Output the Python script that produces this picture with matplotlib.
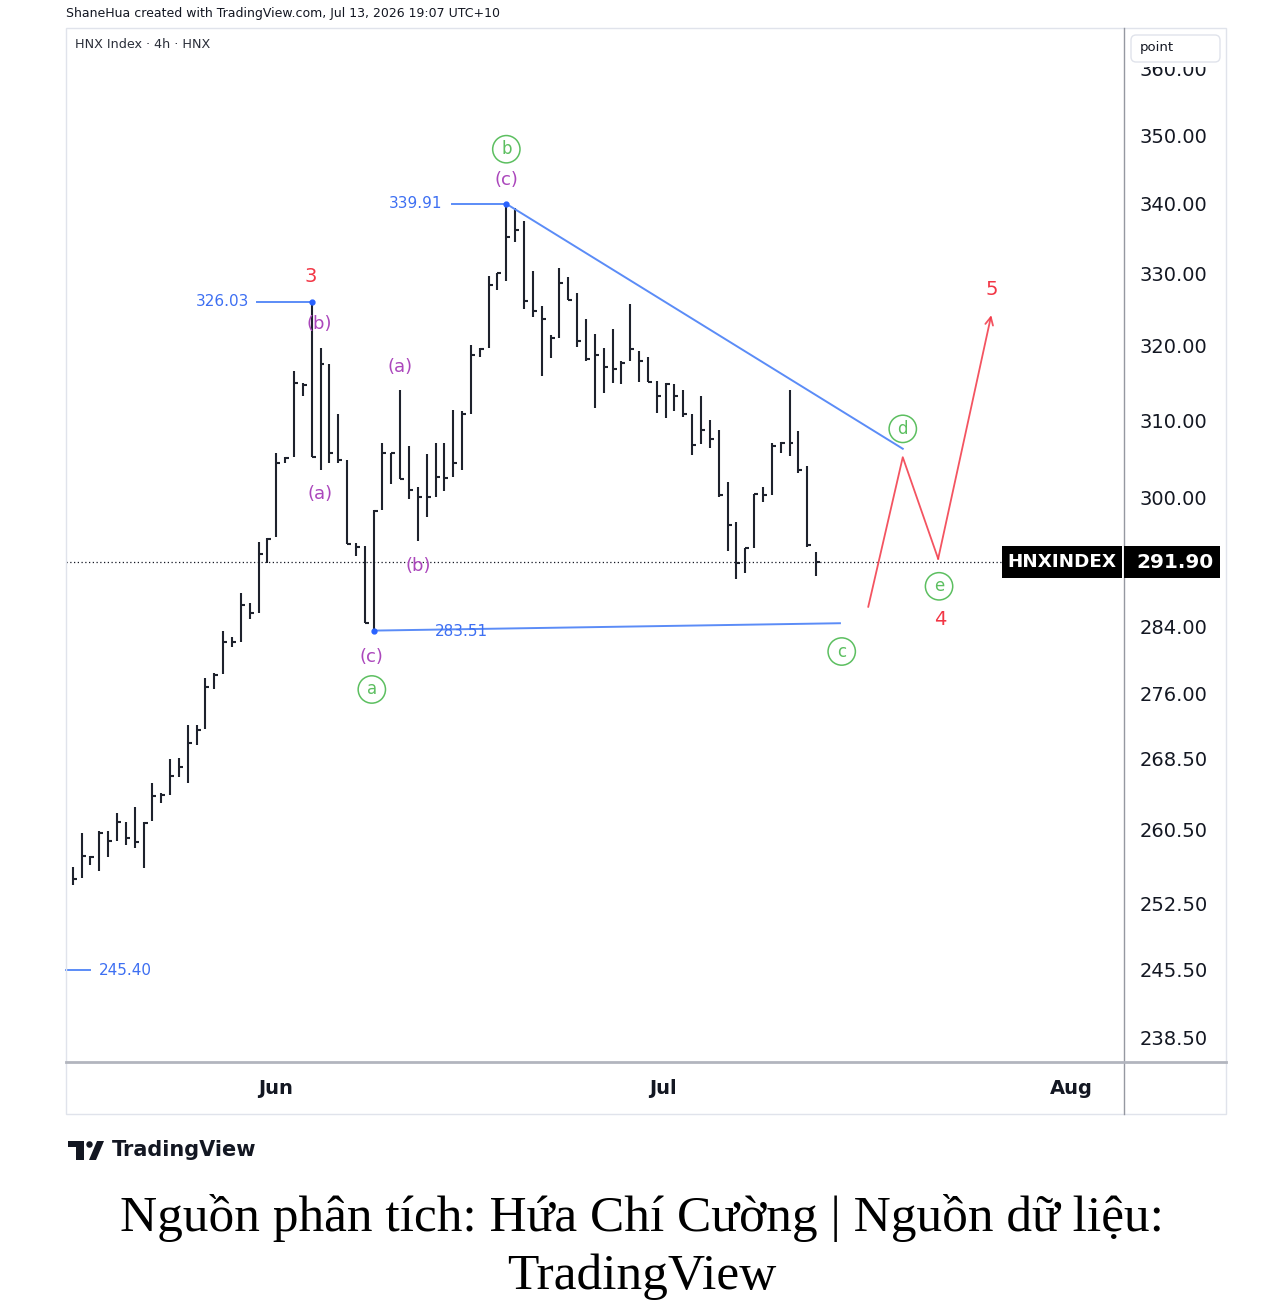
import numpy as np
import matplotlib
matplotlib.use('Agg')
import matplotlib.pyplot as plt
from matplotlib.patches import Rectangle, Polygon, Circle, FancyBboxPatch
from matplotlib.lines import Line2D
from matplotlib.ticker import FixedLocator, NullLocator, FixedFormatter

# --- HLC bars (4h) ---
highs = [256.4, 260.1, 257.6, 260.3, 260.3, 262.3, 261.4, 263.0, 261.4, 265.7,
         264.6, 268.4, 268.6, 272.4, 272.4, 277.8, 278.5, 283.5, 282.7, 288.1,
         286.8, 294.4, 294.9, 305.7, 305.2, 316.6, 315.0, 326.03, 319.7, 317.6,
         310.8, 304.9, 294.3, 293.9, 298.4, 307.0, 305.7, 314.1, 306.6, 301.4,
         305.6, 307.0, 307.0, 311.4, 311.2, 320.1, 319.7, 329.6, 330.0, 339.91,
         339.3, 337.4, 330.4, 325.4, 321.5, 330.7, 329.5, 327.3, 323.7, 321.6,
         319.7, 322.3, 318.0, 325.8, 319.3, 318.5, 315.3, 315.0, 314.8, 314.1,
         310.9, 313.2, 310.1, 308.8, 302.0, 296.9, 293.7, 300.5, 301.4, 307.0,
         307.2, 314.1, 308.6, 304.0, 293.2]
lows = [254.4, 255.2, 256.6, 256.0, 257.5, 259.3, 258.8, 258.5, 256.3, 261.5,
        263.5, 264.4, 266.4, 265.7, 270.0, 271.9, 276.6, 278.3, 281.5, 282.1,
        284.9, 285.6, 291.8, 295.0, 304.5, 305.2, 313.2, 305.2, 303.6, 304.5,
        304.5, 294.1, 292.6, 284.4, 283.51, 298.4, 301.8, 302.4, 299.8, 294.5,
        297.5, 300.1, 300.8, 302.6, 303.5, 310.8, 318.5, 319.7, 327.7, 329.0,
        334.5, 325.1, 324.0, 315.9, 318.4, 321.0, 326.3, 319.9, 318.0, 311.6,
        313.6, 315.0, 314.8, 318.0, 315.1, 315.1, 311.0, 310.3, 311.3, 310.5,
        305.5, 306.9, 306.4, 300.1, 293.3, 289.8, 290.6, 293.7, 299.4, 300.3,
        305.7, 305.3, 303.1, 293.8, 290.2]
closes = [255.1, 257.6, 257.5, 260.1, 259.3, 261.3, 259.6, 259.1, 261.2, 264.3,
          264.4, 266.5, 267.5, 270.3, 271.8, 276.8, 278.2, 282.1, 282.1, 286.6,
          285.6, 292.9, 294.8, 304.5, 305.1, 315.0, 314.7, 305.2, 317.6, 305.8,
          304.8, 294.2, 293.8, 284.4, 298.3, 305.7, 305.7, 302.4, 301.0, 300.1,
          300.1, 302.7, 302.5, 304.4, 310.8, 318.8, 319.6, 328.4, 330.0, 335.2,
          336.2, 326.2, 324.8, 323.7, 321.1, 328.6, 326.3, 320.7, 318.2, 318.7,
          317.1, 316.9, 317.7, 319.6, 318.0, 315.1, 313.2, 314.8, 313.2, 310.9,
          306.8, 308.7, 307.6, 300.3, 296.5, 291.8, 293.7, 300.4, 300.3, 306.6,
          307.0, 307.0, 303.6, 294.0, 291.9]

price_ticks = [360, 350, 340, 330, 320, 310, 300, 284, 276, 268.5, 260.5, 252.5, 245.5, 238.5]
month_pos = [22.9, 66.7, 112.8]
month_labels = ['Jun', 'Jul', 'Aug']

# Elliott wave labels
minor_txt = ['(b)', '(a)', '(a)', '(b)', '(c)', '(c)']
minor_x = [27.9, 27.9, 37.0, 39.0, 33.8, 49.0]
minor_y = [323.0, 300.5, 317.1, 291.4, 280.3, 343.4]
circ_txt = ['a', 'b', 'c', 'd', 'e']
circ_x = [33.8, 49.0, 86.9, 93.8, 97.9]
circ_y = [276.5, 347.9, 281.0, 308.9, 288.9]
major_txt = ['3', '4', '5']
major_x = [26.9, 98.0, 103.9]
major_y = [329.6, 284.8, 327.8]

# triangle lines and projected path
tri_upper_x = [49, 93.8]
tri_upper_y = [339.91, 306.3]
tri_lower_x = [34, 86.7]
tri_lower_y = [283.51, 284.4]
proj_x = [89.9, 93.8, 97.8, 103.8]
proj_y = [286.4, 305.2, 292.3, 324.2]

last_price = 291.90
W, H = 1284, 1316

RED = '#f23645'
PURPLE = '#ab47bc'
GREEN = '#5cbf60'
BLUE = '#5b8cf7'
BLUE_TXT = '#3d6ff2'
DARK = '#131722'


def fx(px):
    return px / W


def fy(py):
    return 1 - py / H


fig = plt.figure(figsize=(W / 100, H / 100), dpi=100)
fig.patch.set_facecolor('white')
ax = fig.add_axes([fx(66), fy(1062), fx(1124) - fx(66), fy(28) - fy(1062)])

x = np.arange(len(highs))
ax.vlines(x, lows, highs, color='#1e222d', lw=1.5)
ax.hlines(closes, x, x + 0.45, color='#1e222d', lw=1.5)

ax.set_yscale('log')
ax.set_xlim(-0.76, 118.8)
ax.set_ylim(236.0, 366.3)
ax.yaxis.set_major_locator(FixedLocator(price_ticks))
ax.yaxis.set_major_formatter(FixedFormatter(['%.2f' % t for t in price_ticks]))
ax.yaxis.set_minor_locator(NullLocator())
ax.yaxis.tick_right()
ax.tick_params(axis='y', length=0, pad=11, labelsize=14, labelcolor=DARK)
ax.set_xticks(month_pos)
ax.set_xticklabels(month_labels)
ax.tick_params(axis='x', length=0, pad=12, labelsize=14, labelcolor=DARK)
for lbl in ax.get_xticklabels():
    lbl.set_fontweight('semibold')
for s in ax.spines.values():
    s.set_visible(False)

# last price dotted line
ax.axhline(last_price, color=DARK, ls=(0, (1, 2)), lw=0.9)

# triangle
ax.plot(tri_upper_x, tri_upper_y, color=BLUE, lw=1.4)
ax.plot(tri_lower_x, tri_lower_y, color=BLUE, lw=1.4)

# price labels
ax.plot([20.8, 27], [326.03, 326.03], color=BLUE, lw=1.4)
ax.plot([27], [326.03], 'o', color='#2962ff', ms=3.5)
ax.text(19.9, 326.03, '326.03', color=BLUE_TXT, fontsize=11, ha='right', va='center')
ax.plot([42.9, 49], [339.91, 339.91], color=BLUE, lw=1.4)
ax.plot([49], [339.91], 'o', color='#2962ff', ms=3.5)
ax.text(41.8, 339.91, '339.91', color=BLUE_TXT, fontsize=11, ha='right', va='center')
ax.plot([34], [283.51], 'o', color='#2962ff', ms=3.5)
ax.text(40.9, 283.4, '283.51', color=BLUE_TXT, fontsize=11, ha='left', va='center')
ax.plot([-0.76, 2.0], [245.4, 245.4], color=BLUE, lw=1.4, clip_on=False)
ax.text(2.9, 245.4, '245.40', color=BLUE_TXT, fontsize=11, ha='left', va='center')

# projected path
ax.plot(proj_x[:-1], proj_y[:-1], color=RED, lw=1.3, alpha=0.85)
ax.annotate('', xy=(proj_x[-1], proj_y[-1]), xytext=(proj_x[-2], proj_y[-2]),
            arrowprops=dict(arrowstyle='->', color=RED, lw=1.3, alpha=0.85,
                            mutation_scale=14, shrinkA=0, shrinkB=0))

for t, xi, yi in zip(minor_txt, minor_x, minor_y):
    ax.text(xi, yi, t, color=PURPLE, fontsize=13, ha='center', va='center')
for t, xi, yi in zip(circ_txt, circ_x, circ_y):
    ax.text(xi, yi, t, color=GREEN, fontsize=12, ha='center', va='center',
            bbox=dict(boxstyle='circle,pad=0.28', fc='white', ec=GREEN, lw=1.1))
for t, xi, yi in zip(major_txt, major_x, major_y):
    ax.text(xi, yi, t, color=RED, fontsize=14, ha='center', va='center')

# frame and separators
fig.patches.append(Rectangle((fx(66), fy(1114)), fx(1226) - fx(66), fy(28) - fy(1114),
                             transform=fig.transFigure, fill=False, ec='#e0e3eb', lw=1))
fig.lines.append(Line2D([fx(1124), fx(1124)], [fy(28), fy(1114)], transform=fig.transFigure,
                        color='#9598a1', lw=1))
fig.lines.append(Line2D([fx(66), fx(1226)], [fy(1062), fy(1062)], transform=fig.transFigure,
                        color='#b2b5be', lw=2))

# top of price scale is covered, "point" box on it
fig.patches.append(Rectangle((fx(1126), fy(67)), fx(1224) - fx(1126), fy(30) - fy(67),
                             transform=fig.transFigure, fc='white', ec='none', zorder=2))
fig.patches.append(FancyBboxPatch((fx(1131), fy(62)), fx(1220) - fx(1131), fy(35) - fy(62),
                                  boxstyle='round,pad=0,rounding_size=0.004',
                                  transform=fig.transFigure, fc='white', ec='#e0e3eb', lw=1, zorder=2))
fig.text(fx(1140), fy(48), 'point', fontsize=9.5, color=DARK, va='center', ha='left', zorder=3)

# last price boxes
y_disp = ax.transData.transform((0, last_price))[1]
ly = y_disp / fig.bbox.height
bh = 32 / H
fig.patches.append(Rectangle((fx(1002), ly - bh / 2), fx(1122) - fx(1002), bh,
                             transform=fig.transFigure, fc='black', ec='none', zorder=2))
fig.patches.append(Rectangle((fx(1124), ly - bh / 2), fx(1220) - fx(1124), bh,
                             transform=fig.transFigure, fc='black', ec='none', zorder=2))
fig.text(fx(1062), ly, 'HNXINDEX', color='white', fontsize=13.2, weight='bold',
         ha='center', va='center', zorder=3)
fig.text(fx(1175), ly, '%.2f' % last_price, color='white', fontsize=14.5, weight='bold',
         ha='center', va='center', zorder=3)

# header texts
fig.text(fx(66), fy(13), 'ShaneHua created with TradingView.com, Jul 13, 2026 19:07 UTC+10',
         fontsize=9, color=DARK, ha='left', va='center')
fig.text(fx(75), fy(45), 'HNX Index · 4h · HNX', fontsize=9.2, color='#2a2e39',
         ha='left', va='center')

# TradingView logo
logo = [Rectangle((fx(68), fy(1147)), fx(84) - fx(68), fy(1141) - fy(1147)),
        Rectangle((fx(76), fy(1160)), fx(84) - fx(76), fy(1141) - fy(1160)),
        Polygon([(fx(89), fy(1160)), (fx(96), fy(1160)), (fx(104), fy(1141)), (fx(97), fy(1141))])]
for p in logo:
    p.set_transform(fig.transFigure)
    p.set_facecolor(DARK)
    p.set_edgecolor('none')
    fig.patches.append(p)
fig.patches.append(Circle((fx(89.5), fy(1144.5)), 3.2 / W, transform=fig.transFigure,
                          fc=DARK, ec='none'))
fig.text(fx(112), fy(1150), 'TradingView', fontsize=15, weight='bold', color=DARK,
         ha='left', va='center')

# caption
fig.text(0.5, fy(1218), 'Nguồn phân tích: Hứa Chí Cường | Nguồn dữ liệu:',
         family='Liberation Serif', fontsize=37, ha='center', va='center', color='black')
fig.text(0.5, fy(1277), 'TradingView', family='Liberation Serif', fontsize=37,
         ha='center', va='center', color='black')

fig.savefig('out.png', dpi=100, facecolor='white')
